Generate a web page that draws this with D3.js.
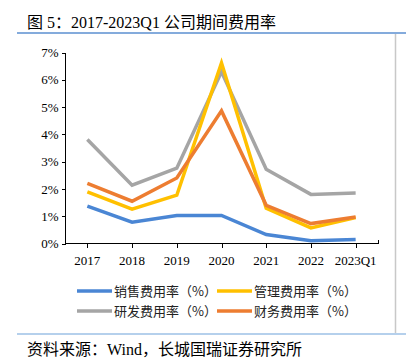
<!DOCTYPE html>
<html lang="zh">
<head>
<meta charset="utf-8">
<title>期间费用率</title>
<script src="https://cdn.jsdelivr.net/npm/d3@7"></script>
<style>
  body { margin: 0; background: #fff; }
  .serif { font-family: "Liberation Serif", "Times New Roman", "Noto Sans CJK SC", serif; }
  .cjk { font-family: "Liberation Serif", "Noto Sans CJK SC", sans-serif; }
  .axis path, .axis line { stroke: #000; shape-rendering: crispEdges; }
</style>
</head>
<body>
<script>
var years = ["2017", "2018", "2019", "2020", "2021", "2022", "2023Q1"];
var sales   = [1.37, 0.78, 1.03, 1.03, 0.33, 0.10, 0.15];
var admin   = [1.89, 1.26, 1.77, 6.62, 1.29, 0.57, 0.95];
var rnd     = [3.81, 2.14, 2.76, 6.29, 2.72, 1.80, 1.85];
var finance = [2.20, 1.55, 2.40, 4.86, 1.40, 0.73, 0.97];
var yTicks = [0, 1, 2, 3, 4, 5, 6, 7];

var series = [
  { name: "销售费用率（%）", values: sales,   color: "#4a86d4" },
  { name: "管理费用率（%）", values: admin,   color: "#ffc000" },
  { name: "研发费用率（%）", values: rnd,     color: "#a5a5a5" },
  { name: "财务费用率（%）", values: finance, color: "#ed7d31" }
];
// draw order: grey behind, then others
var drawOrder = [2, 1, 3, 0];

var w = 406, h = 360;
var svg = d3.select("body").append("svg").attr("width", w).attr("height", h);

// title and frame
svg.append("text").attr("class", "cjk")
  .attr("x", 27).attr("y", 28)
  .style("font-size", "16px")
  .text("图 5：2017-2023Q1 公司期间费用率");
svg.append("line").attr("x1", 17).attr("x2", w).attr("y1", 33).attr("y2", 33)
  .attr("stroke", "#5b8fd0").attr("stroke-width", 1.5);
svg.append("line").attr("x1", 395.5).attr("x2", 395.5).attr("y1", 34).attr("y2", 333)
  .attr("stroke", "#c8c8c8").attr("stroke-width", 1.5);
svg.append("line").attr("x1", 17).attr("x2", w).attr("y1", 334).attr("y2", 334)
  .attr("stroke", "#9dc0e6").attr("stroke-width", 1.5);
svg.append("text").attr("class", "cjk")
  .attr("x", 27).attr("y", 355)
  .style("font-size", "16px")
  .text("资料来源：Wind，长城国瑞证券研究所");

// scales
var x = d3.scaleBand().domain(years).range([65, 378]);
var y = d3.scaleLinear().domain([0, 7]).range([243.5, 52.5]);
var cx = function(d) { return x(d) + x.bandwidth() / 2; };

// y axis
var yAxis = svg.append("g").attr("class", "axis serif")
  .attr("transform", "translate(65.5,0)")
  .call(d3.axisLeft(y).tickValues(yTicks).tickSize(4).tickSizeOuter(0)
    .tickFormat(function(d) { return d + "%"; }));
yAxis.selectAll("text").style("font-size", "13px").attr("fill", "#000").attr("x", -7);
yAxis.select(".domain").attr("d", "M0," + y(7) + "V" + y(0));

// x axis
var xg = svg.append("g").attr("class", "axis serif")
  .attr("transform", "translate(0,243.5)");
xg.append("line").attr("x1", 65).attr("x2", 378.5).attr("stroke", "#000");
xg.selectAll(".tk").data(years).enter().append("line")
  .attr("x1", function(d) { return Math.round(cx(d)) + 0.5; })
  .attr("x2", function(d) { return Math.round(cx(d)) + 0.5; })
  .attr("y1", 0).attr("y2", 4).attr("stroke", "#000");
xg.append("line").attr("x1", 378.5).attr("x2", 378.5).attr("y1", 0).attr("y2", -4).attr("stroke", "#000");
xg.selectAll(".lb").data(years).enter().append("text")
  .attr("x", cx).attr("y", 21)
  .attr("text-anchor", "middle")
  .style("font-size", "13px")
  .text(function(d) { return d; });

// lines
var line = d3.line()
  .x(function(d, i) { return cx(years[i]); })
  .y(function(d) { return y(d); });

drawOrder.forEach(function(k) {
  var s = series[k];
  svg.append("path")
    .attr("d", line(s.values))
    .attr("fill", "none")
    .attr("stroke", s.color)
    .attr("stroke-width", 3.5)
    .attr("stroke-linejoin", "miter");
});

// legend
var legendPos = [[77, 291], [217, 291], [77, 311], [217, 311]];
series.forEach(function(s, i) {
  var p = legendPos[i];
  var g = svg.append("g").attr("transform", "translate(" + p[0] + "," + p[1] + ")");
  g.append("line").attr("x1", 0).attr("x2", 35).attr("y1", 0).attr("y2", 0)
    .attr("stroke", s.color).attr("stroke-width", 3.5);
  g.append("text").attr("x", 37).attr("y", 5)
    .style("font-family", "'Noto Sans CJK SC', sans-serif")
    .style("font-size", "13px")
    .attr("fill", "#222")
    .text(s.name);
});
</script>
</body>
</html>
